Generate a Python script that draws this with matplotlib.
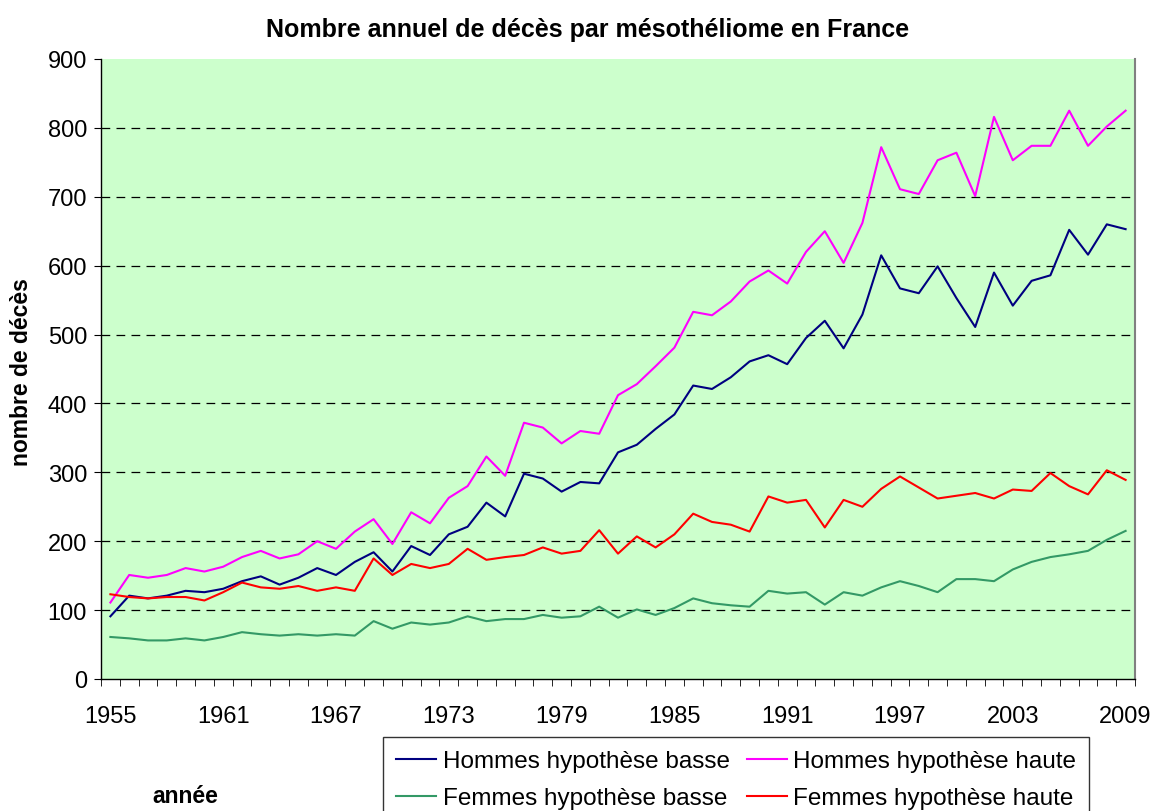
import matplotlib
matplotlib.use("Agg")
import matplotlib.pyplot as plt
from matplotlib.ticker import FixedLocator, MultipleLocator

plt.rcParams['font.family'] = ['Liberation Sans', 'DejaVu Sans']

years = list(range(1955, 2010))

hommes_basse = [91, 121, 117, 121, 128, 126, 131, 142, 149, 137,
                147, 161, 151, 170, 184, 156, 193, 180, 210, 221,
                256, 236, 298, 291, 272, 286, 284, 329, 340, 363,
                384, 426, 421, 438, 461, 470, 457, 495, 520, 480,
                529, 615, 567, 560, 599, 553, 511, 590, 542, 578,
                586, 652, 616, 660, 653]
hommes_haute = [111, 151, 147, 151, 161, 156, 163, 177, 186, 175,
                181, 200, 189, 214, 232, 196, 242, 226, 263, 280,
                323, 295, 372, 365, 342, 360, 356, 412, 428, 454,
                481, 533, 528, 548, 577, 593, 574, 620, 650, 604,
                662, 772, 711, 704, 753, 764, 701, 816, 753, 774,
                774, 825, 774, 802, 825]
femmes_basse = [61, 59, 56, 56, 59, 56, 61, 68, 65, 63,
                65, 63, 65, 63, 84, 73, 82, 79, 82, 91,
                84, 87, 87, 93, 89, 91, 105, 89, 101, 93,
                103, 117, 110, 107, 105, 128, 124, 126, 108, 126,
                121, 133, 142, 135, 126, 145, 145, 142, 159, 170,
                177, 181, 186, 202, 215]
femmes_haute = [123, 119, 117, 119, 119, 114, 126, 140, 133, 131,
                135, 128, 133, 128, 175, 151, 167, 161, 167, 189,
                173, 177, 180, 191, 182, 186, 216, 182, 207, 191,
                210, 240, 228, 224, 214, 265, 256, 260, 220, 260,
                250, 276, 294, 278, 262, 266, 270, 262, 275, 273,
                299, 280, 268, 303, 289]

labels = ["Hommes hypothèse basse", "Hommes hypothèse haute",
          "Femmes hypothèse basse", "Femmes hypothèse haute"]
colors = ["#000080", "#FF00FF", "#339966", "#FF0000"]

fig = plt.figure(figsize=(11.57, 8.12), dpi=100)
ax = fig.add_axes([101/1157, 1 - 680/812, (1135 - 101)/1157, (680 - 60)/812])
ax.set_facecolor("#CCFFCC")

x = list(range(len(years)))
series = [hommes_basse, hommes_haute, femmes_basse, femmes_haute]
handles = []
for s, c, lab in zip(series, colors, labels):
    h, = ax.plot(x, s, color=c, lw=1.5, label=lab, zorder=3)
    handles.append(h)

ax.set_xlim(-0.5, len(years) - 0.5)
ax.set_ylim(0, 900)
ax.yaxis.set_major_locator(MultipleLocator(100))
ax.set_xticks([i for i in x if (years[i] - 1955) % 6 == 0])
ax.set_xticklabels([str(years[i]) for i in x if (years[i] - 1955) % 6 == 0])
ax.xaxis.set_minor_locator(FixedLocator([i - 0.5 for i in range(len(years) + 1)]))
ax.tick_params(axis='x', which='major', length=0, pad=19, labelsize=17)
ax.tick_params(axis='x', which='minor', length=5, direction='out', color='black')
ax.tick_params(axis='y', which='major', length=5, direction='out', labelsize=17, pad=5)

for v in range(100, 900, 100):
    ax.axhline(v, color='black', lw=0.9, ls=(0, (7, 5)), zorder=1)

for side in ['left', 'bottom']:
    ax.spines[side].set_color('black')
    ax.spines[side].set_linewidth(1.0)
ax.spines['right'].set_color('#808080')
ax.spines['right'].set_linewidth(1.5)
ax.spines['top'].set_visible(False)

fig.text(588/1157, 1 - 30/812, "Nombre annuel de décès par mésothéliome en France",
         ha='center', va='center', fontsize=18, fontweight='bold')
fig.text(22/1157, 1 - 372/812, "nombre de décès", rotation=90,
         ha='center', va='center', fontsize=16.5, fontweight='bold')
fig.text(185/1157, 1 - 797/812, "année", ha='center', va='center',
         fontsize=16.5, fontweight='bold')

order = [0, 2, 1, 3]
leg = fig.legend([handles[i] for i in order], [labels[i] for i in order],
                 ncol=2, loc='upper left', bbox_to_anchor=(383/1157, 1 - 738/812),
                 fontsize=17.5, frameon=True, fancybox=False, handlelength=1.65,
                 handletextpad=0.25, columnspacing=0.7, borderpad=0.55,
                 labelspacing=0.62, borderaxespad=0)
leg.get_frame().set_edgecolor('black')
leg.get_frame().set_linewidth(1.0)

fig.savefig("out.png", dpi=100)
